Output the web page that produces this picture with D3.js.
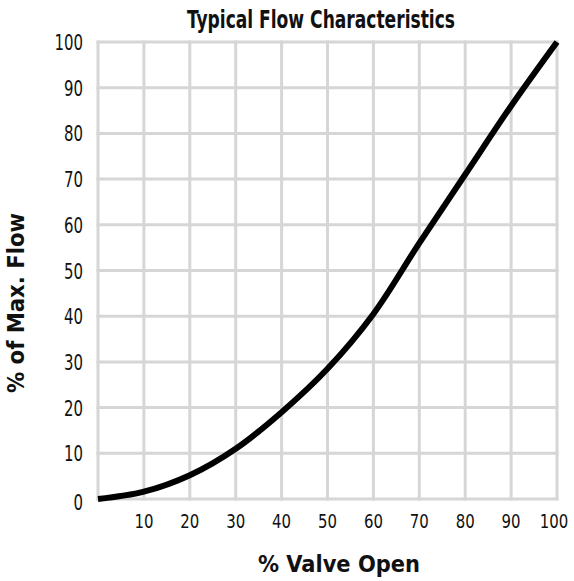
<!DOCTYPE html>
<html><head><meta charset="utf-8">
<script src="https://cdn.jsdelivr.net/npm/d3@7/dist/d3.min.js"></script>
<style>
body{margin:0;background:#fff;}
svg text{font-family:"Liberation Sans Narrow","DejaVu Sans Condensed","Arial Narrow",sans-serif;fill:#111;}
</style></head><body>
<svg id="c" width="574" height="581"></svg>
<script>
const valveOpen = [0,10,20,30,40,50,60,70,80,90,100];
const maxFlow   = [0,1.6,5.2,11,19,28.5,40.5,56,71,86,100];
const xTicks = [10,20,30,40,50,60,70,80,90,100];
const yTicks = [0,10,20,30,40,50,60,70,80,90,100];
const gridTicks = [0,10,20,30,40,50,60,70,80,90,100];
const title = "Typical Flow Characteristics";
const xTitle = "% Valve Open";
const yTitle = "% of Max. Flow";

const svg = d3.select("#c");
const L=98, R=557, T=42, B=499;
const x = d3.scaleLinear().domain([0,100]).range([L,R]);
const y = d3.scaleLinear().domain([0,100]).range([B,T]);

const g = svg.append("g");
g.selectAll(".vg").data(gridTicks).join("line")
  .attr("x1",d=>x(d)).attr("x2",d=>x(d)).attr("y1",y(0)+1.5).attr("y2",y(100)-1.5)
  .attr("stroke","#d6d6d6").attr("stroke-width",3);
g.selectAll(".hg").data(gridTicks).join("line")
  .attr("y1",d=>y(d)).attr("y2",d=>y(d)).attr("x1",x(0)-1.5).attr("x2",x(100)+1.5)
  .attr("stroke","#d6d6d6").attr("stroke-width",3);

const digitW = 9.5;
svg.selectAll(".yl").data(yTicks).join("text")
  .attr("x",83).attr("y",d=>y(d)+8 + (d===0?3:0))
  .attr("text-anchor","end").attr("font-size",21)
  .attr("textLength",d=>String(d).length*digitW).attr("lengthAdjust","spacingAndGlyphs")
  .text(d=>d);
svg.selectAll(".xl").data(xTicks).join("text")
  .attr("x",d=>x(d) - (d===100?3:0)).attr("y",528)
  .attr("text-anchor","middle").attr("font-size",20)
  .attr("textLength",d=>String(d).length*digitW).attr("lengthAdjust","spacingAndGlyphs")
  .text(d=>d);

const line = d3.line().x((d,i)=>x(valveOpen[i])).y(d=>y(d)).curve(d3.curveCatmullRom.alpha(0.5));
svg.append("path").datum(maxFlow).attr("d",line)
  .attr("fill","none").attr("stroke","#000").attr("stroke-width",6).attr("stroke-linecap","butt");

svg.append("text").attr("x",321).attr("y",28).attr("text-anchor","middle")
  .attr("font-size",24).attr("font-weight","bold")
  .attr("textLength",268).attr("lengthAdjust","spacingAndGlyphs").text(title);
svg.append("text").attr("x",339).attr("y",572).attr("text-anchor","middle")
  .attr("font-size",23).attr("font-weight","bold")
  .attr("textLength",162).attr("lengthAdjust","spacingAndGlyphs").text(xTitle);
svg.append("text").attr("transform","translate(24,303) rotate(-90)").attr("text-anchor","middle")
  .attr("font-size",23).attr("font-weight","bold")
  .attr("textLength",180).attr("lengthAdjust","spacingAndGlyphs").text(yTitle);
</script>
</body></html>
